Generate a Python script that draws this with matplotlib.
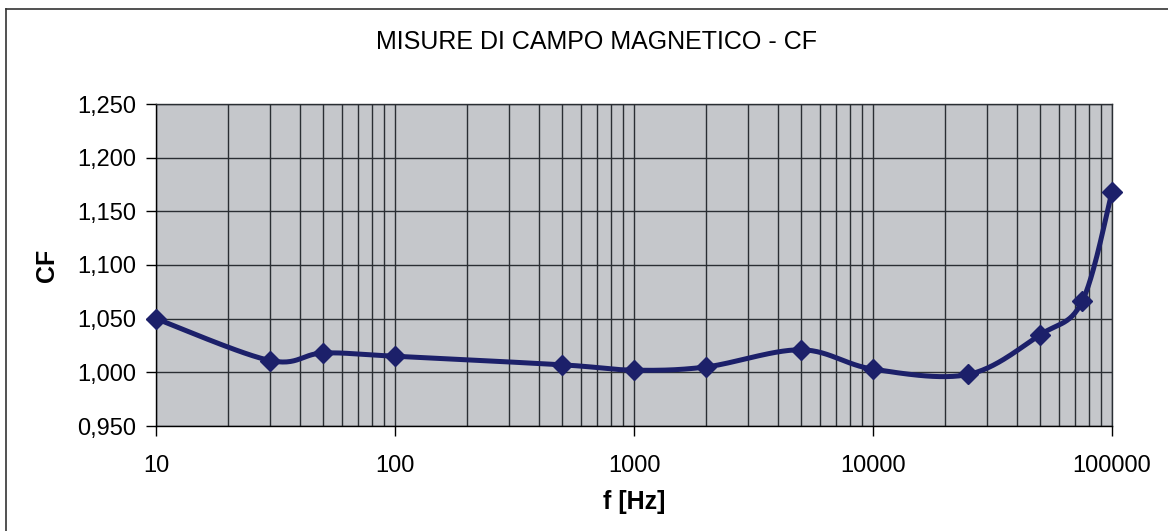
import numpy as np
import matplotlib
matplotlib.use("Agg")
import matplotlib.pyplot as plt
from matplotlib.lines import Line2D
from matplotlib.ticker import LogLocator, NullFormatter

freq = [10, 30, 50, 100, 500, 1000, 2000, 5000, 10000, 25000, 50000, 75000, 100000]
cf = [1.050, 1.011, 1.018, 1.015, 1.007, 1.002, 1.005, 1.021, 1.003, 0.998, 1.035, 1.066, 1.168]

x_ticks = [10, 100, 1000, 10000, 100000]
x_tick_labels = ["10", "100", "1000", "10000", "100000"]
y_ticks = [0.950, 1.000, 1.050, 1.100, 1.150, 1.200, 1.250]
y_tick_labels = ["0,950", "1,000", "1,050", "1,100", "1,150", "1,200", "1,250"]

plot_bg = "#c5c7cb"
grid_c = "#2a2e33"
line_c = "#1c206a"

plt.rcParams.update({
    "font.family": ["Liberation Sans", "DejaVu Sans"],
    "font.size": 15,
})


def smooth(ax, xs, ys, n=30):
    # excel-like smoothed line: catmull-rom as bezier, done in pixel space
    p = ax.transData.transform(np.column_stack([xs, ys]))
    p = np.vstack([p[0], p, p[-1]])
    out = []
    t = np.linspace(0, 1, n)[:, None]
    for i in range(1, len(p) - 2):
        p0, p3 = p[i], p[i + 1]
        c1 = p0 + (p[i + 1] - p[i - 1]) / 6
        c2 = p3 - (p[i + 2] - p[i]) / 6
        seg = (1 - t) ** 3 * p0 + 3 * (1 - t) ** 2 * t * c1 + 3 * (1 - t) * t ** 2 * c2 + t ** 3 * p3
        out.append(seg if i == 1 else seg[1:])
    out = np.vstack(out)
    d = ax.transData.inverted().transform(out)
    return d[:, 0], d[:, 1]


fig = plt.figure(figsize=(11.68, 5.31), dpi=100)
ax = fig.add_axes([156 / 1168, 1 - 426 / 531, (1112 - 156) / 1168, (426 - 104) / 531])
ax.set_facecolor(plot_bg)
ax.set_xscale("log")
ax.set_xlim(10, 100000)
ax.set_ylim(0.950, 1.250)

ax.set_xticks(x_ticks)
ax.set_xticklabels(x_tick_labels)
ax.xaxis.set_minor_locator(LogLocator(base=10, subs=range(2, 10)))
ax.xaxis.set_minor_formatter(NullFormatter())
ax.set_yticks(y_ticks)
ax.set_yticklabels(y_tick_labels)

ax.grid(True, which="major", color=grid_c, linewidth=1.0)
ax.grid(True, which="minor", axis="x", color=grid_c, linewidth=1.0)
ax.set_axisbelow(True)
ax.tick_params(which="major", direction="out", length=7, width=1.0, color="black", pad=7, labelsize=17)
ax.tick_params(axis="x", which="major", pad=14)
ax.tick_params(axis="x", which="minor", length=0)
for s in ax.spines.values():
    s.set_color(grid_c)
    s.set_linewidth(1.0)
ax.spines["left"].set_color("black")
ax.spines["bottom"].set_color("black")

sx, sy = smooth(ax, freq, cf)
ax.plot(sx, sy, color=line_c, linewidth=3.6, solid_capstyle="round", clip_on=False, zorder=3)
ax.plot(freq, cf, linestyle="none", marker="D", markersize=10, color=line_c, clip_on=False, zorder=4)

ax.set_xlabel("f [Hz]", fontweight="bold", fontsize=18, labelpad=9)
ax.set_ylabel("CF", fontweight="bold", fontsize=18, labelpad=13)

fig.text(597 / 1168, 1 - 42 / 531, "MISURE DI CAMPO MAGNETICO - CF", ha="center", va="center", fontsize=18)

# chart frame (right and bottom edges fall outside the scan)
fig.add_artist(Line2D([6 / 1168, 6 / 1168], [0, 1 - 9 / 531], transform=fig.transFigure, color="#333333", linewidth=1.2))
fig.add_artist(Line2D([6 / 1168, 1], [1 - 9 / 531, 1 - 9 / 531], transform=fig.transFigure, color="#333333", linewidth=1.2))

fig.savefig("out.png", dpi=100)
